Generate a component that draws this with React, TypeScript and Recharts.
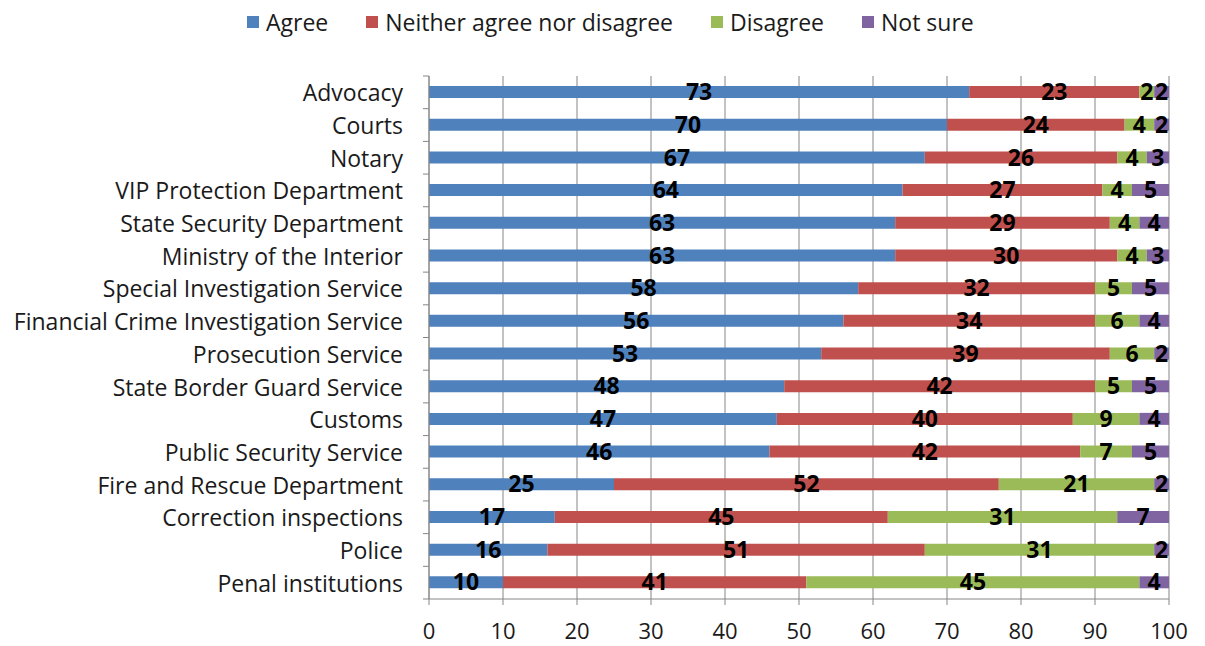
import React from 'react';
import {
  BarChart,
  Bar,
  XAxis,
  YAxis,
  CartesianGrid,
  Legend,
  LabelList,
} from 'recharts';

const categories = [
  'Advocacy',
  'Courts',
  'Notary',
  'VIP Protection Department',
  'State Security Department',
  'Ministry of the Interior',
  'Special Investigation Service',
  'Financial Crime Investigation Service',
  'Prosecution Service',
  'State Border Guard Service',
  'Customs',
  'Public Security Service',
  'Fire and Rescue  Department',
  'Correction inspections',
  'Police',
  'Penal institutions',
];

const agree = [73, 70, 67, 64, 63, 63, 58, 56, 53, 48, 47, 46, 25, 17, 16, 10];
const neither = [23, 24, 26, 27, 29, 30, 32, 34, 39, 42, 40, 42, 52, 45, 51, 41];
const disagree = [2, 4, 4, 4, 4, 4, 5, 6, 6, 5, 9, 7, 21, 31, 31, 45];
const notSure = [2, 2, 3, 5, 4, 3, 5, 4, 2, 5, 4, 5, 2, 7, 2, 4];

const xTicks = [0, 10, 20, 30, 40, 50, 60, 70, 80, 90, 100];

const series = [
  { key: 'agree', name: 'Agree', color: '#4F81BD' },
  { key: 'neither', name: 'Neither agree nor disagree', color: '#C0504D' },
  { key: 'disagree', name: 'Disagree', color: '#9BBB59' },
  { key: 'notSure', name: 'Not sure', color: '#8064A2' },
];

const data = categories.map((name, i) => ({
  name,
  agree: agree[i],
  neither: neither[i],
  disagree: disagree[i],
  notSure: notSure[i],
}));

const FONT = '"Open Sans", sans-serif';
const W = 1190;
const H = 638;
const MARGIN = { top: 0, right: 29, left: 0, bottom: 6 };
const LEGEND_H = 68;
const X_HEIGHT = 41;
const Y_WIDTH = 421;
const TICK_GAP = 26;
const BAND = (H - MARGIN.bottom - X_HEIGHT - LEGEND_H) / categories.length;

function CategoryTick(props: any) {
  const { x, y, payload, index } = props;
  const axisX = x + TICK_GAP;
  return (
    <g>
      <text
        x={x}
        y={y}
        textAnchor="end"
        dominantBaseline="central"
        fontFamily={FONT}
        fontSize={23}
        fill="#1a1a1a"
      >
        {payload.value}
      </text>
      <line x1={axisX - 6} x2={axisX} y1={y - BAND / 2} y2={y - BAND / 2} stroke="#868686" />
      {index === categories.length - 1 && (
        <line x1={axisX - 6} x2={axisX} y1={y + BAND / 2} y2={y + BAND / 2} stroke="#868686" />
      )}
    </g>
  );
}

function LegendBox() {
  return (
    <div
      style={{
        height: LEGEND_H,
        display: 'flex',
        alignItems: 'flex-start',
        paddingLeft: 239,
        fontFamily: FONT,
        fontSize: 23,
        color: '#1a1a1a',
        boxSizing: 'border-box',
      }}
    >
      {series.map((s) => (
        <div key={s.key} style={{ display: 'flex', alignItems: 'center', marginRight: 38, lineHeight: '28px' }}>
          <span style={{ width: 12, height: 12, background: s.color, display: 'inline-block', marginRight: 7 }} />
          <span>{s.name}</span>
        </div>
      ))}
    </div>
  );
}

export default function App() {
  return (
    <div style={{ width: W, height: H }}>
      <BarChart width={W} height={H} data={data} layout="vertical" margin={MARGIN} barSize={12}>
        <CartesianGrid horizontal={false} stroke="#868686" />
        <XAxis
          type="number"
          domain={[0, 100]}
          ticks={xTicks}
          interval={0}
          height={X_HEIGHT}
          axisLine={{ stroke: '#868686' }}
          tickLine={{ stroke: '#868686' }}
          tickSize={6}
          tickMargin={18}
          tick={{ fill: '#1a1a1a', fontSize: 22, fontFamily: FONT }}
        />
        <YAxis
          type="category"
          dataKey="name"
          width={Y_WIDTH}
          interval={0}
          tickLine={false}
          tickSize={0}
          tickMargin={TICK_GAP}
          axisLine={{ stroke: '#868686' }}
          tick={<CategoryTick />}
        />
        <Legend verticalAlign="top" content={<LegendBox />} />
        {series.map((s) => (
          <Bar key={s.key} dataKey={s.key} name={s.name} stackId="a" fill={s.color} isAnimationActive={false}>
            <LabelList
              dataKey={s.key}
              position="center"
              fill="#000"
              fontWeight="bold"
              fontSize={23}
              fontFamily={FONT}
            />
          </Bar>
        ))}
      </BarChart>
    </div>
  );
}
